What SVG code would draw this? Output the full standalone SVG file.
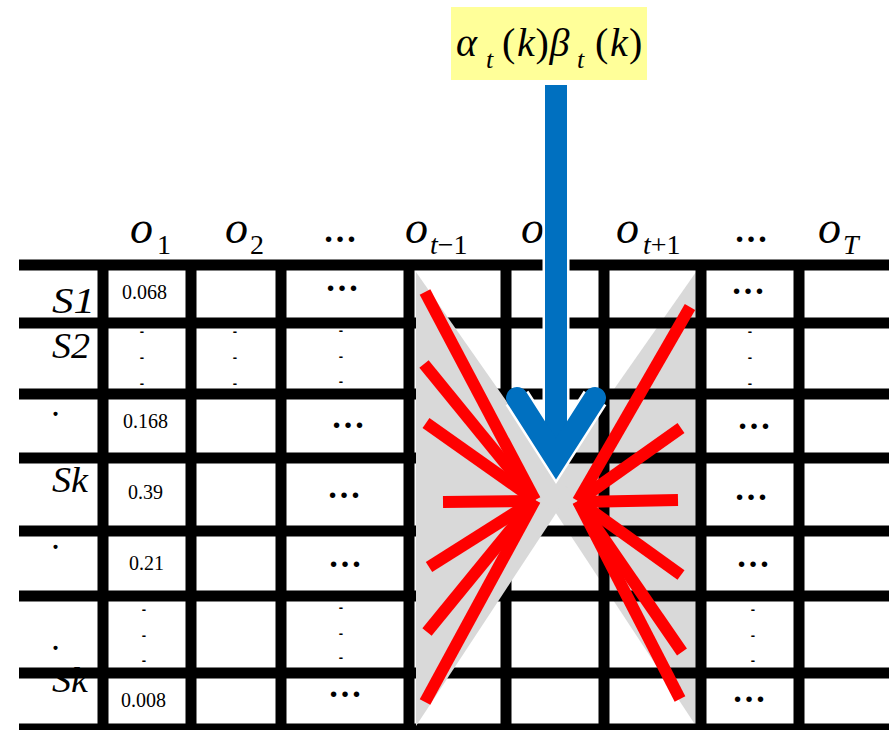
<svg xmlns="http://www.w3.org/2000/svg" width="889" height="730" viewBox="0 0 889 730">
<style>
.hl{stroke:#000;stroke-width:11}
.vl{stroke:#000;stroke-width:11}
.hdr{font-family:"Liberation Serif",serif;font-style:italic;font-size:46px;fill:#000}
.sub{font-size:28px}
.up{font-style:normal}
.val{font-family:"Liberation Serif",serif;font-size:20px;fill:#000}
.dots{font-family:"Liberation Serif",serif;font-size:34px;font-weight:bold;text-anchor:middle;fill:#000}
.vd{font-family:"Liberation Sans",sans-serif;font-size:13px;font-weight:bold;text-anchor:middle;fill:#000}
.lbl{font-family:"Liberation Serif",serif;font-style:italic;font-size:35px;fill:#000}
.red{stroke:#FF0000;stroke-width:12;fill:none}
.grey{fill:#D9D9D9}
.math{font-family:"Liberation Serif",serif;font-style:italic;font-size:40px;fill:#000}
</style>
<rect width="889" height="730" fill="#fff"/>
<!-- right grey triangle (under the grid) -->
<polygon id="grey-right" class="grey" points="696,272 542,492 696,726"/>
<!-- row labels -->
<g id="row-labels">
<text class="lbl" x="52" y="313" textLength="43" lengthAdjust="spacingAndGlyphs">S1</text>
<text class="lbl" x="52" y="358" textLength="38" lengthAdjust="spacingAndGlyphs">S2</text>
<text class="lbl" x="52" y="416">.</text>
<text class="lbl" x="52" y="492" textLength="36" lengthAdjust="spacingAndGlyphs">Sk</text>
<text class="lbl" x="52" y="549">.</text>
<text class="lbl" x="52" y="650">.</text>
<text class="lbl" x="52" y="692" textLength="36" lengthAdjust="spacingAndGlyphs">Sk</text>
</g>
<!-- cell values -->
<g id="cells">
<text class="val" x="122" y="299">0.068</text>
<text class="val" x="123" y="428">0.168</text>
<text class="val" x="128" y="499">0.39</text>
<text class="val" x="129" y="570">0.21</text>
<text class="val" x="121" y="707">0.008</text>
<text class="dots" x="342" y="291">…</text>
<text class="dots" x="348" y="428">…</text>
<text class="dots" x="344" y="498">…</text>
<text class="dots" x="345" y="567">…</text>
<text class="dots" x="345" y="697">…</text>
<text class="dots" x="748" y="294">…</text>
<text class="dots" x="754" y="429">…</text>
<text class="dots" x="751" y="500">…</text>
<text class="dots" x="753" y="567">…</text>
<text class="dots" x="749" y="702">…</text>
<text class="vd"><tspan x="142" y="336">-</tspan><tspan x="142" y="362">-</tspan><tspan x="142" y="388">-</tspan></text>
<text class="vd"><tspan x="235" y="336">-</tspan><tspan x="235" y="362">-</tspan><tspan x="235" y="388">-</tspan></text>
<text class="vd"><tspan x="341" y="335">-</tspan><tspan x="341" y="361">-</tspan><tspan x="341" y="386">-</tspan></text>
<text class="vd"><tspan x="750" y="336">-</tspan><tspan x="750" y="362">-</tspan><tspan x="750" y="388">-</tspan></text>
<text class="vd"><tspan x="144" y="614">-</tspan><tspan x="144" y="640">-</tspan><tspan x="144" y="665">-</tspan></text>
<text class="vd"><tspan x="341" y="612">-</tspan><tspan x="341" y="638">-</tspan><tspan x="341" y="662">-</tspan></text>
<text class="vd"><tspan x="753" y="614">-</tspan><tspan x="753" y="640">-</tspan><tspan x="753" y="665">-</tspan></text>
</g>
<!-- grid -->
<g id="grid">
<line class="hl" x1="19" y1="265" x2="889" y2="265"/>
<line class="hl" x1="19" y1="323" x2="889" y2="323"/>
<line class="hl" x1="19" y1="394" x2="889" y2="394"/>
<line class="hl" x1="19" y1="458" x2="889" y2="458"/>
<line class="hl" x1="19" y1="531" x2="889" y2="531"/>
<line class="hl" x1="19" y1="596" x2="889" y2="596"/>
<line class="hl" x1="19" y1="673" x2="889" y2="673"/>
<line class="hl" x1="19" y1="729" x2="889" y2="729"/>
<line class="vl" x1="103" y1="260" x2="103" y2="730"/>
<line class="vl" x1="191" y1="260" x2="191" y2="730"/>
<line class="vl" x1="281" y1="260" x2="281" y2="730"/>
<line class="vl" x1="409" y1="260" x2="409" y2="730"/>
<line class="vl" x1="506" y1="260" x2="506" y2="730"/>
<line class="vl" x1="604" y1="260" x2="604" y2="730"/>
<line class="vl" x1="701" y1="260" x2="701" y2="730"/>
<line class="vl" x1="799" y1="260" x2="799" y2="730"/>
</g>
<!-- left grey triangle (over the grid) -->
<polygon id="grey-left" class="grey" points="416,272 570,492 416,726"/>
<!-- connectors -->
<g id="connectors">
<g id="red-left" class="red">
<line x1="425" y1="292" x2="535" y2="500"/>
<line x1="424" y1="364" x2="535" y2="500"/>
<line x1="426" y1="423" x2="535" y2="500"/>
<line x1="443" y1="502" x2="535" y2="501"/>
<line x1="429" y1="567" x2="535" y2="500"/>
<line x1="427" y1="632" x2="535" y2="500"/>
<line x1="425" y1="702" x2="535" y2="500"/>
</g>
<g id="red-right" class="red">
<line x1="690" y1="307" x2="578" y2="501"/>
<line x1="681" y1="428" x2="578" y2="501"/>
<line x1="678" y1="500" x2="578" y2="502"/>
<line x1="681" y1="575" x2="578" y2="501"/>
<line x1="682" y1="652" x2="578" y2="501"/>
<line x1="680" y1="699" x2="578" y2="501"/>
</g>
</g>
<!-- headers -->
<g id="headers" class="hdr">
<text x="130" y="243">o<tspan class="sub up" x="157" y="254">1</tspan></text>
<text x="225" y="243">o<tspan class="sub up" x="250" y="254">2</tspan></text>
<text class="dots" x="340" y="242" style="font-style:normal">…</text>
<text x="405" y="243">o<tspan class="sub" x="430" y="254">t</tspan><tspan class="sub up">−1</tspan></text>
<text x="521" y="243">o<tspan class="sub" x="547" y="254">t</tspan></text>
<text x="616" y="243">o<tspan class="sub" x="643" y="254">t</tspan><tspan class="sub up">+1</tspan></text>
<text class="dots" x="751" y="242" style="font-style:normal">…</text>
<text x="818" y="243">o<tspan class="sub" x="843" y="254">T</tspan></text>
</g>
<!-- blue arrow -->
<g id="blue-arrow" fill="none" stroke-linejoin="miter" stroke-miterlimit="10">
<path d="M556,85 V462 M517,398 L556,459 L595,398" stroke="#fff" stroke-width="27" stroke-linecap="butt"/>
<path d="M556,85 V462" stroke="#0070C0" stroke-width="22"/>
<path d="M517,398 L556,459 L595,398" stroke="#0070C0" stroke-width="22" stroke-linecap="round"/>
</g>
<!-- top label -->
<g id="label-alpha-beta">
<rect x="451" y="7" width="196" height="73" fill="#FFFF99"/>
<text class="math"><tspan x="456" y="56">α</tspan><tspan x="486" y="68" font-size="26">t</tspan><tspan x="502" y="56" font-style="normal">(</tspan><tspan x="517" y="56">k</tspan><tspan x="535.5" y="56" font-style="normal">)</tspan><tspan x="549.5" y="56">β</tspan><tspan x="577" y="68" font-size="26">t</tspan><tspan x="595" y="56" font-style="normal">(</tspan><tspan x="610" y="56">k</tspan><tspan x="629" y="56" font-style="normal">)</tspan></text>
</g>
</svg>
